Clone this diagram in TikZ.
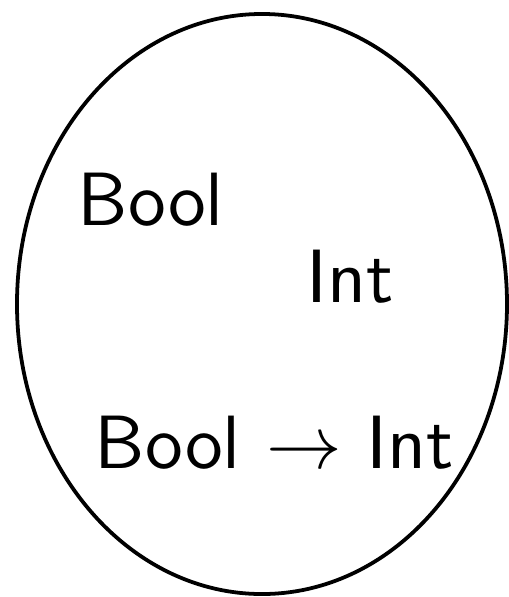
\documentclass[tikz,border=0pt]{standalone}
\usepackage{tikz}

\begin{document}
\begin{tikzpicture}[
  x=0.1324pt, y=-0.1324pt,
  type/.style={anchor=base west, inner sep=0pt, font=\sffamily},
  line width=0.5pt
]
\useasboundingbox (0,0) rectangle (509,597);
% the set of types
\draw (262,304) ellipse [x radius=32.44pt, y radius=38.4pt];
\node[type] (bool)    at (76,225)  {Bool};
\node[type] (int)     at (305,302) {Int};
\node[type] (boolint) at (93,468)  {Bool $\rightarrow$ Int};
\end{tikzpicture}
\end{document}
